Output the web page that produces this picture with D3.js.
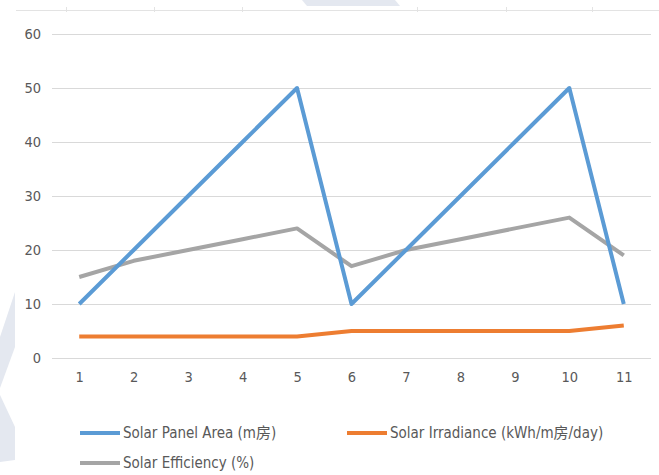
<!DOCTYPE html>
<html>
<head>
<meta charset="utf-8">
<script src="https://cdn.jsdelivr.net/npm/d3@7"></script>
<style>
  html, body { margin: 0; padding: 0; background: #fff; }
  svg { display: block; }
  text { font-family: "Liberation Sans Narrow", "DejaVu Sans Condensed", "Noto Sans CJK SC", sans-serif; }
</style>
</head>
<body>
<svg id="chart" width="659" height="475"></svg>
<script>
// Category labels along the x axis
const categories = [1, 2, 3, 4, 5, 6, 7, 8, 9, 10, 11];
// Series values
const panelArea   = [10, 20, 30, 40, 50, 10, 20, 30, 40, 50, 10];
const irradiance  = [4, 4, 4, 4, 4, 5, 5, 5, 5, 5, 6];
const efficiency  = [15, 18, 20, 22, 24, 17, 20, 22, 24, 26, 19];
// Y tick values
const yTicks = [0, 10, 20, 30, 40, 50, 60];
const seriesNames = ["Solar Panel Area (m房)", "Solar Irradiance (kWh/m房/day)", "Solar Efficiency (%)"];
const seriesColors = ["#5b9bd5", "#ed7d31", "#a5a5a5"];

const svg = d3.select("#chart");

// faint decorative shapes in the page background
const deco = svg.append("g").attr("fill", "#e4e8f0");
deco.append("polygon").attr("points", "302,0 395,0 400,6 307,6");
deco.append("polygon").attr("points", "0,337 15,292 15,347 0,388");
deco.append("polygon").attr("points", "0,395 15,427 15,460 0,462");

// thin rule near the top edge with small ticks
const topRule = svg.append("g").attr("stroke", "#e3e3e3").attr("stroke-width", 1);
topRule.append("line").attr("x1", 16).attr("x2", 659).attr("y1", 10.5).attr("y2", 10.5);
[66, 154, 242, 417, 506, 592].forEach(x =>
  topRule.append("line").attr("x1", x + 0.5).attr("x2", x + 0.5).attr("y1", 7).attr("y2", 12));

const x = d3.scalePoint().domain(categories).range([52, 651]).padding(0.5);
const y = d3.scaleLinear().domain([0, 60]).range([358, 34]);

// horizontal gridlines
svg.append("g")
  .selectAll("line")
  .data(yTicks)
  .join("line")
  .attr("x1", 52).attr("x2", 651)
  .attr("y1", d => Math.round(y(d)) + 0.5)
  .attr("y2", d => Math.round(y(d)) + 0.5)
  .attr("stroke", "#d9d9d9")
  .attr("stroke-width", 1);

// y axis labels
const yAxis = d3.axisLeft(y).tickValues(yTicks).tickSize(0).tickPadding(0);
svg.append("g")
  .attr("transform", "translate(41,0)")
  .call(yAxis)
  .call(g => g.select(".domain").remove())
  .call(g => g.selectAll("text")
    .attr("fill", "#595959")
    .style("font-size", "14.5px"));

// x axis labels
const xAxis = d3.axisBottom(x).tickSize(0).tickPadding(0);
svg.append("g")
  .attr("transform", "translate(0,372)")
  .call(xAxis)
  .call(g => g.select(".domain").remove())
  .call(g => g.selectAll("text")
    .attr("fill", "#595959")
    .style("font-size", "14.5px"));

// series lines
const allSeries = [panelArea, irradiance, efficiency];
const line = d3.line()
  .x((d, i) => x(categories[i]))
  .y(d => y(d));

// draw order: efficiency underneath, then area, irradiance
[2, 0, 1].forEach(k => {
  svg.append("path")
    .datum(allSeries[k])
    .attr("d", line)
    .attr("fill", "none")
    .attr("stroke", seriesColors[k])
    .attr("stroke-width", 4)
    .attr("stroke-linejoin", "round");
});

// legend
const legendItems = [
  { k: 0, x: 80, y: 433 },
  { k: 1, x: 347, y: 433 },
  { k: 2, x: 80, y: 463 }
];
const legend = svg.append("g");
legendItems.forEach(it => {
  legend.append("line")
    .attr("x1", it.x).attr("x2", it.x + 40)
    .attr("y1", it.y).attr("y2", it.y)
    .attr("stroke", seriesColors[it.k])
    .attr("stroke-width", 4);
  legend.append("text")
    .attr("x", it.x + 43)
    .attr("y", it.y)
    .attr("dy", "0.35em")
    .attr("fill", "#595959")
    .style("font-size", "15px")
    .text(seriesNames[it.k]);
});
</script>
</body>
</html>
